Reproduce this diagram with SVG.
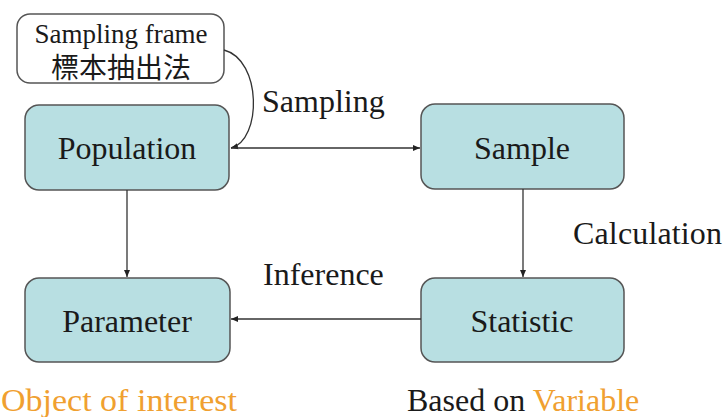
<svg xmlns="http://www.w3.org/2000/svg" width="726" height="417" viewBox="0 0 726 417">
<defs>
<style>
.node{fill:#b8dfe2;stroke:#555;stroke-width:1.5}
.t{font-family:"Liberation Serif",serif;font-size:32px;fill:#1a1a1a}
.lbl{font-family:"Liberation Serif",serif;font-size:32px;fill:#1a1a1a}
.or{fill:#f0a030}
.c{fill:none;stroke:#333;stroke-width:1.3}
</style>
<marker id="ah" markerWidth="8" markerHeight="8" refX="7" refY="4" orient="auto" markerUnits="userSpaceOnUse">
<path d="M0,1 L7,4 L0,7 z" fill="#222"/>
</marker>
</defs>
<rect width="726" height="417" fill="#fff"/>
<g id="frame">
<rect x="17" y="14" width="207" height="69" rx="13" fill="#fff" stroke="#555" stroke-width="1.5"/>
<text x="121" y="43" text-anchor="middle" font-family="Liberation Serif,serif" font-size="27" fill="#1a1a1a">Sampling frame</text>
<text x="121" y="78" text-anchor="middle" font-family="Noto Sans CJK TC,sans-serif" font-size="28" fill="#1a1a1a">標本抽出法</text>
</g>
<g id="population">
<rect class="node" x="25" y="105" width="204" height="85" rx="14"/>
<text class="t" x="127" y="159" text-anchor="middle">Population</text>
</g>
<g id="sample">
<rect class="node" x="421" y="104" width="203" height="85" rx="14"/>
<text class="t" x="522" y="159" text-anchor="middle">Sample</text>
</g>
<g id="parameter">
<rect class="node" x="25" y="278" width="205" height="84" rx="14"/>
<text class="t" x="127" y="332" text-anchor="middle">Parameter</text>
</g>
<g id="statistic">
<rect class="node" x="421" y="278" width="203" height="84" rx="14"/>
<text class="t" x="522" y="332" text-anchor="middle">Statistic</text>
</g>
<g id="connectors">
<path class="c" d="M224,50 C262,60 262,140 231,148" marker-end="url(#ah)"/>
<line class="c" x1="231" y1="148" x2="420" y2="148" marker-end="url(#ah)"/>
<line class="c" x1="127" y1="190" x2="127" y2="277" marker-end="url(#ah)"/>
<line class="c" x1="523" y1="189" x2="523" y2="277" marker-end="url(#ah)"/>
<line class="c" x1="421" y1="319" x2="231" y2="319" marker-end="url(#ah)"/>
</g>
<g id="labels">
<text class="lbl" x="262" y="112">Sampling</text>
<text class="lbl" x="573" y="244" textLength="149">Calculation</text>
<text class="lbl" x="263" y="285">Inference</text>
<text class="lbl or" x="1" y="411" font-size="36" textLength="236" lengthAdjust="spacingAndGlyphs">Object of interest</text>
<text class="lbl" x="407" y="411">Based on <tspan class="or">Variable</tspan></text>
</g>
</svg>
